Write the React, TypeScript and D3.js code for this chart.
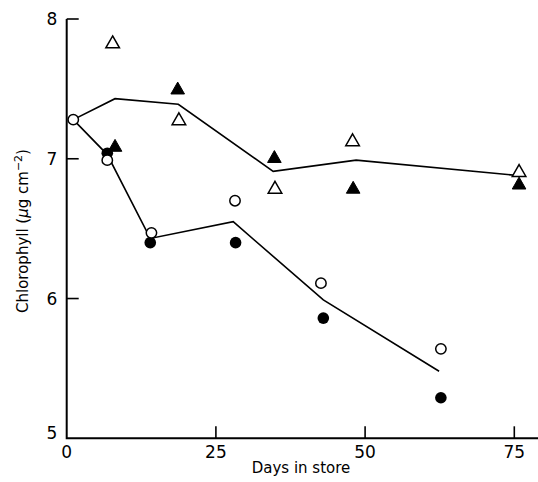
import React from "react";
import * as d3 from "d3";

// Individual measurements
const openTriDays = [7.7, 18.8, 34.9, 47.9, 75.8];
const openTriVals = [7.83, 7.28, 6.79, 7.13, 6.91];
const fillTriDays = [8.1, 18.6, 34.8, 48.0, 75.8];
const fillTriVals = [7.09, 7.5, 7.01, 6.79, 6.82];
const openCircDays = [1.1, 6.8, 14.2, 28.2, 42.6, 62.7];
const openCircVals = [7.28, 6.99, 6.47, 6.7, 6.11, 5.64];
const fillCircDays = [6.8, 14.0, 28.3, 43.0, 62.7];
const fillCircVals = [7.04, 6.4, 6.4, 5.86, 5.29];

// Mean curves
const upperDays = [1.1, 8.1, 18.7, 34.6, 48.5, 75.6];
const upperVals = [7.28, 7.43, 7.39, 6.91, 6.99, 6.88];
const lowerDays = [1.1, 6.8, 14.0, 27.9, 43.0, 62.4];
const lowerVals = [7.28, 7.03, 6.43, 6.55, 5.99, 5.48];

const xTicks = [0, 25, 50, 75];
const yTicks = [5, 6, 7, 8];

const W = 538;
const H = 482;
const FONT = "'DejaVu Sans', sans-serif";

export default function App() {
  const x = d3.scaleLinear().domain([0, 75]).range([66.7, 514.3]);
  const y = d3.scaleLinear().domain([5, 8]).range([438.3, 19]);
  const x0 = x(0);
  const y0 = y(5);

  const line = d3
    .line<[number, number]>()
    .x((d) => x(d[0]))
    .y((d) => y(d[1]));

  const upper = upperDays.map((d, i) => [d, upperVals[i]] as [number, number]);
  const lower = lowerDays.map((d, i) => [d, lowerVals[i]] as [number, number]);

  const tri = (cx: number, cy: number) => {
    const s = 6.8;
    return `M${cx},${cy - s}L${cx + s},${cy + s * 0.75}L${cx - s},${cy + s * 0.75}Z`;
  };

  return (
    <svg
      width={W}
      height={H}
      style={{ position: "absolute", left: 0, top: 0, background: "#fff" }}
    >
      <rect width={W} height={H} fill="#fff" />
      {/* axes */}
      <path
        d={`M${x0},${y(8)}V${y0}H${W}`}
        fill="none"
        stroke="#000"
        strokeWidth={2}
      />
      {yTicks
        .filter((t) => t > 5)
        .map((t) => (
          <line key={"yt" + t} x1={x0} x2={x0 + 12} y1={y(t)} y2={y(t)} stroke="#000" strokeWidth={1.6} />
        ))}
      {xTicks
        .filter((t) => t > 0)
        .map((t) => (
          <line key={"xt" + t} x1={x(t)} x2={x(t)} y1={y0} y2={y0 - 12} stroke="#000" strokeWidth={1.6} />
        ))}
      {yTicks.map((t) => (
        <text
          key={"yl" + t}
          x={52}
          y={y(t) + (t === 5 ? -5 : 0)}
          textAnchor="middle"
          dominantBaseline="central"
          fontFamily={FONT}
          fontSize={17}
        >
          {t}
        </text>
      ))}
      {xTicks.map((t) => (
        <text
          key={"xl" + t}
          x={x(t)}
          y={452}
          textAnchor="middle"
          dominantBaseline="central"
          fontFamily={FONT}
          fontSize={17}
        >
          {t}
        </text>
      ))}
      <text x={301} y={473} textAnchor="middle" fontFamily={FONT} fontSize={15}>
        Days in store
      </text>
      <text
        transform="translate(28,231) rotate(-90)"
        textAnchor="middle"
        fontFamily={FONT}
        fontSize={15}
      >
        Chlorophyll (<tspan fontStyle="italic">μ</tspan>g cm
        <tspan dy={-6} fontSize={11}>−2</tspan>
        <tspan dy={6}>)</tspan>
      </text>

      {/* mean curves */}
      <path d={line(upper) ?? ""} fill="none" stroke="#000" strokeWidth={1.6} />
      <path d={line(lower) ?? ""} fill="none" stroke="#000" strokeWidth={1.6} />

      {/* markers */}
      {openTriDays.map((d, i) => (
        <path key={"ot" + i} d={tri(x(d), y(openTriVals[i]))} fill="#fff" stroke="#000" strokeWidth={1.5} />
      ))}
      {fillTriDays.map((d, i) => (
        <path key={"ft" + i} d={tri(x(d), y(fillTriVals[i]))} fill="#000" stroke="#000" strokeWidth={1} />
      ))}
      {fillCircDays.map((d, i) => (
        <circle key={"fc" + i} cx={x(d)} cy={y(fillCircVals[i])} r={5.8} fill="#000" />
      ))}
      {openCircDays.map((d, i) => (
        <circle key={"oc" + i} cx={x(d)} cy={y(openCircVals[i])} r={5.2} fill="#fff" stroke="#000" strokeWidth={1.5} />
      ))}
    </svg>
  );
}
